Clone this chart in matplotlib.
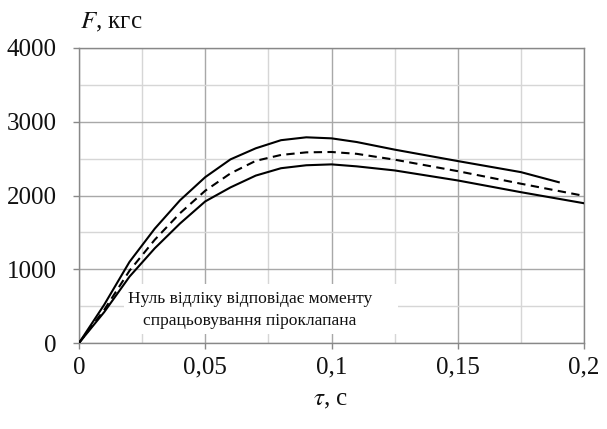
import matplotlib
matplotlib.use("Agg")
import matplotlib.pyplot as plt
from matplotlib.ticker import MultipleLocator
from matplotlib.patches import Rectangle

# Data (time in s, force in kgf)
t_upper = [0, 0.01, 0.02, 0.03, 0.04, 0.05, 0.06, 0.07, 0.08, 0.09, 0.10, 0.11, 0.125, 0.15, 0.175, 0.19]
f_upper = [0, 520, 1100, 1550, 1935, 2249, 2490, 2640, 2750, 2789, 2775, 2725, 2622, 2467, 2317, 2180]

t_mid = [0, 0.01, 0.02, 0.03, 0.04, 0.05, 0.06, 0.07, 0.08, 0.09, 0.10, 0.11, 0.125, 0.15, 0.175, 0.2]
f_mid = [0, 450, 980, 1400, 1760, 2065, 2300, 2470, 2550, 2585, 2590, 2565, 2486, 2330, 2160, 1995]

t_lower = [0, 0.01, 0.02, 0.03, 0.04, 0.05, 0.06, 0.07, 0.08, 0.09, 0.10, 0.11, 0.125, 0.15, 0.175, 0.2]
f_lower = [0, 420, 900, 1284, 1620, 1920, 2110, 2270, 2370, 2410, 2422, 2395, 2340, 2204, 2045, 1895]

x_ticks = [0, 0.05, 0.1, 0.15, 0.2]
x_tick_labels = ["0", "0,05", "0,1", "0,15", "0,2"]
y_ticks = [0, 1000, 2000, 3000, 4000]
y_tick_labels = ["0", "1000", "2000", "3000", "4000"]

note = "Нуль відліку відповідає моменту\nспрацьовування піроклапана"

plt.rcParams['font.family'] = ['Liberation Serif', 'DejaVu Serif']
plt.rcParams['mathtext.fontset'] = 'stix'

fig = plt.figure(figsize=(6.07, 4.29), dpi=100)
ax = fig.add_axes([79/607, 1 - 343/429, (584-79)/607, (343-48)/429])

ax.set_xlim(0, 0.2)
ax.set_ylim(0, 4000)

ax.xaxis.set_minor_locator(MultipleLocator(0.025))
ax.yaxis.set_minor_locator(MultipleLocator(500))
ax.set_xticks(x_ticks)
ax.set_xticklabels(x_tick_labels)
ax.set_yticks(y_ticks)
ax.set_yticklabels(y_tick_labels)

ax.grid(which='major', color='#a8a8a8', linewidth=1.0, zorder=0)
ax.grid(which='minor', color='#d6d6d6', linewidth=1.0, zorder=0)
ax.set_axisbelow(True)

for s in ax.spines.values():
    s.set_color('#888888')
    s.set_linewidth(1.0)

ax.tick_params(which='major', direction='out', length=4, width=1.0, color='#888888',
               labelsize=18, labelcolor='#111111')
ax.tick_params(axis='y', pad=12)
ax.tick_params(axis='x', pad=6)
ax.tick_params(which='minor', length=0)

# white box behind the note
box = Rectangle(((124-79)/505*0.2, (343-334)/295*4000), (398-124)/505*0.2, (334-284)/295*4000,
                facecolor='white', edgecolor='none', zorder=1.5)
ax.add_patch(box)

ax.plot(t_upper, f_upper, color='black', lw=1.5, zorder=3)
ax.plot(t_mid, f_mid, color='black', lw=1.5, ls=(0, (4.0, 2.6)), zorder=3)
ax.plot(t_lower, f_lower, color='black', lw=1.5, zorder=3)

ax.text(0.0676, (343-310)/295*4000, note, ha='center', va='center', fontsize=12.6,
        color='#111111', linespacing=1.45, zorder=4)

fig.text(80/607, 1 - 22/429, r"$F$, кгс", ha='left', va='center', fontsize=18, color='#111111')
fig.text(331/607, 1 - 400/429, r"$\tau$, с", ha='center', va='center', fontsize=18, color='#111111')

fig.savefig("out.png", dpi=100)
